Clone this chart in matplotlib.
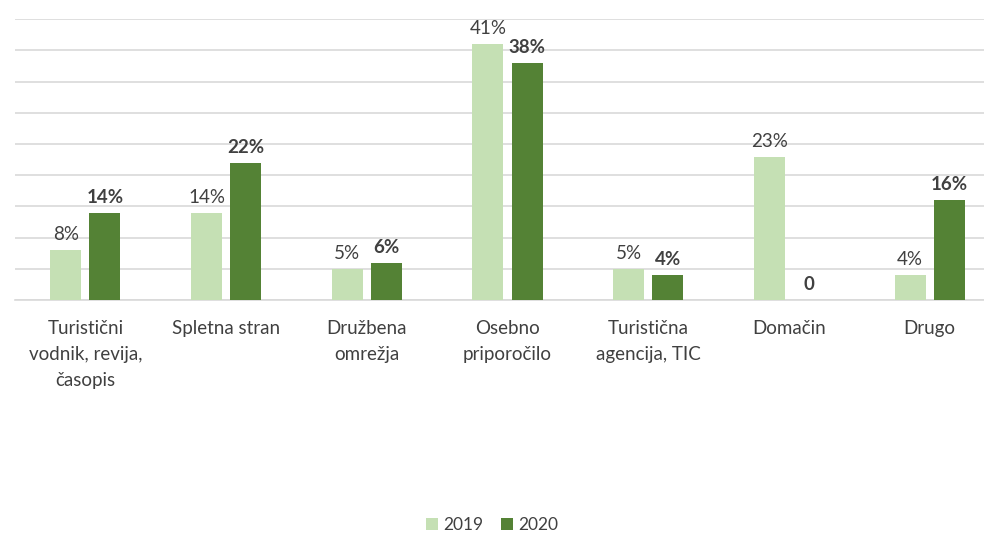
import matplotlib
matplotlib.use("Agg")
import matplotlib.pyplot as plt
import numpy as np

categories = ["Turistični\nvodnik, revija,\nčasopis", "Spletna stran", "Družbena\nomrežja",
              "Osebno\npriporočilo", "Turistična\nagencija, TIC", "Domačin", "Drugo"]
values_2019 = [8, 14, 5, 41, 5, 23, 4]
values_2020 = [14, 22, 6, 38, 4, 0, 16]
labels_2019 = ["8%", "14%", "5%", "41%", "5%", "23%", "4%"]
labels_2020 = ["14%", "22%", "6%", "38%", "4%", "0", "16%"]

light = "#c5e0b4"
dark = "#548235"
text_color = "#404040"

plt.rcParams["font.family"] = ["Lato", "DejaVu Sans"]

fig = plt.figure(figsize=(9.84, 5.33), dpi=100)
# the plot area runs a bit past the right edge, the gridlines get clipped there
ax = fig.add_axes([15 / 984, 0.437, 985 / 984, 0.527])

x = np.arange(len(categories))
w = 0.22
off = 0.139
b1 = ax.bar(x - off, values_2019, w, color=light, label="2019", zorder=3)
b2 = ax.bar(x + off, values_2020, w, color=dark, label="2020", zorder=3)

for rect, lab in zip(b1, labels_2019):
    ax.annotate(lab, (rect.get_x() + rect.get_width() / 2, rect.get_height()),
                xytext=(0, 5), textcoords="offset points", ha="center", va="bottom",
                fontsize=13.5, color=text_color)
for rect, lab in zip(b2, labels_2020):
    ax.annotate(lab, (rect.get_x() + rect.get_width() / 2, rect.get_height()),
                xytext=(0, 5), textcoords="offset points", ha="center", va="bottom",
                fontsize=13.5, color=text_color, fontweight="bold")

ax.set_xlim(-0.5, len(categories) - 0.5)
ax.set_ylim(0, 45)
ax.set_yticks(np.arange(0, 46, 5))
ax.yaxis.grid(True, color="#d9d9d9", linewidth=1.2, zorder=0)
ax.tick_params(axis="y", left=False, labelleft=False)
ax.tick_params(axis="x", bottom=False, pad=11)
ax.set_xticks(x)
ax.set_xticklabels(categories, fontsize=13.5, color=text_color, linespacing=1.65)
for s in ["top", "right", "left"]:
    ax.spines[s].set_visible(False)
ax.spines["bottom"].set_color("#d9d9d9")
ax.spines["bottom"].set_linewidth(1.2)

fig.legend(handles=[b1, b2], labels=["2019", "2020"], loc="center", bbox_to_anchor=(0.5, 0.015),
           ncol=2, frameon=False, fontsize=12.5, handlelength=0.7, handleheight=0.7,
           handletextpad=0.3, columnspacing=1.0, labelcolor=text_color)

fig.savefig("out.png", dpi=100)
